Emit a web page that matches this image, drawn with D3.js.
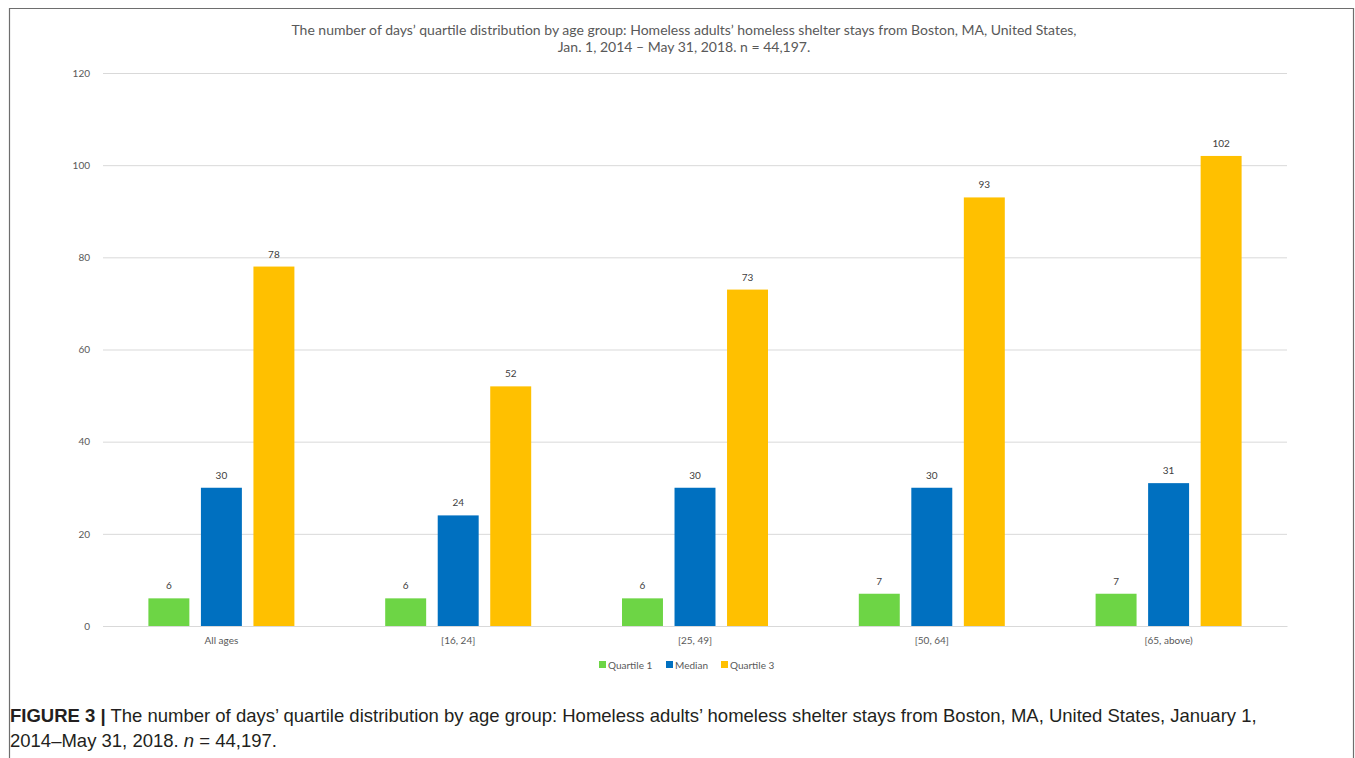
<!DOCTYPE html>
<html>
<head>
<meta charset="utf-8">
<script src="https://cdn.jsdelivr.net/npm/d3@7"></script>
<style>
  html, body { margin: 0; padding: 0; background: #fff; }
  svg { display: block; }
</style>
</head>
<body>
<script>
// Age groups and the three quartile series (days of shelter stay)
const categories = ["All ages", "[16, 24]", "[25, 49]", "[50, 64]", "[65, above)"];
const seriesNames = ["Quartile 1", "Median", "Quartile 3"];
const quartile1 = [6, 6, 6, 7, 7];
const median = [30, 24, 30, 30, 31];
const quartile3 = [78, 52, 73, 93, 102];
const yTicks = [0, 20, 40, 60, 80, 100, 120];
const colors = ["#6dd545", "#0070c0", "#ffc000"];

const titleLines = [
  "The number of days\u2019 quartile distribution by age group: Homeless adults\u2019 homeless shelter stays from Boston, MA, United States,",
  "Jan. 1, 2014 \u2013 May 31, 2018. n = 44,197."
];

const W = 1355, H = 758;
const svg = d3.select("body").append("svg").attr("width", W).attr("height", H);

// outer frame of the chart panel (top, left, right)
svg.append("path")
  .attr("d", `M9.5,${H} L9.5,8.5 L1353.5,8.5 L1353.5,${H}`)
  .attr("fill", "none").attr("stroke", "#6e6e6e").attr("stroke-width", 1.2);

const plot = { left: 103, right: 1287, top: 73, bottom: 626 };

const x = d3.scaleBand().domain(categories).range([plot.left, plot.right]);
const xInner = d3.scaleBand().domain(seriesNames)
  .range([x.bandwidth() / 2 - 73, x.bandwidth() / 2 + 73]).paddingInner(0.22);
const y = d3.scaleLinear().domain([0, 120]).range([plot.bottom, plot.top]);

const chartFont = "Lato, 'Open Sans', sans-serif";

// title
svg.append("g").selectAll("text").data(titleLines).join("text")
  .attr("x", 684).attr("y", (d, i) => 35 + i * 17)
  .attr("text-anchor", "middle")
  .attr("font-family", chartFont).attr("font-size", 14)
  .attr("fill", "#595959")
  .text(d => d);

// gridlines + y axis labels
const yAxis = d3.axisLeft(y).tickValues(yTicks).tickSize(-(plot.right - plot.left)).tickPadding(13);
const gy = svg.append("g").attr("transform", `translate(${plot.left},0)`).call(yAxis);
gy.select(".domain").remove();
gy.selectAll(".tick line").attr("stroke", "#d9d9d9").attr("stroke-width", 1);
gy.selectAll(".tick text")
  .attr("font-family", chartFont).attr("font-size", 10).attr("fill", "#595959");

// x axis labels
const xAxis = d3.axisBottom(x).tickSize(0).tickPadding(11);
const gx = svg.append("g").attr("transform", `translate(0,${plot.bottom})`).call(xAxis);
gx.select(".domain").attr("stroke", "#d9d9d9");
gx.selectAll(".tick text")
  .attr("font-family", chartFont).attr("font-size", 10).attr("fill", "#595959");

// bars
const rows = categories.map((c, i) => ({
  cat: c,
  vals: [quartile1[i], median[i], quartile3[i]]
}));

const groups = svg.append("g").selectAll("g").data(rows).join("g")
  .attr("transform", d => `translate(${x(d.cat)},0)`);

groups.selectAll("rect").data(d => d.vals.map((v, k) => ({ v, s: seriesNames[k], k })))
  .join("rect")
  .attr("x", d => xInner(d.s))
  .attr("width", xInner.bandwidth())
  .attr("y", d => y(d.v))
  .attr("height", d => y(0) - y(d.v))
  .attr("fill", d => colors[d.k]);

groups.selectAll("text.val").data(d => d.vals.map((v, k) => ({ v, s: seriesNames[k], k })))
  .join("text").attr("class", "val")
  .attr("x", d => xInner(d.s) + xInner.bandwidth() / 2)
  .attr("y", d => y(d.v) - 9)
  .attr("text-anchor", "middle")
  .attr("font-family", chartFont).attr("font-size", 10).attr("fill", "#404040")
  .text(d => d.v);

// legend
const legendItems = [
  { name: "Quartile 1", x: 599 },
  { name: "Median", x: 666 },
  { name: "Quartile 3", x: 721 }
];
const lg = svg.append("g").selectAll("g").data(legendItems).join("g")
  .attr("transform", d => `translate(${d.x},665)`);
lg.append("rect").attr("x", 0).attr("y", -4).attr("width", 7).attr("height", 7)
  .attr("fill", (d, i) => colors[i]);
lg.append("text").attr("x", 9).attr("y", 3.5)
  .attr("font-family", chartFont).attr("font-size", 10).attr("fill", "#595959")
  .text(d => d.name);

// figure caption
const cap = svg.append("g").attr("font-family", "'Liberation Sans', Arial, sans-serif")
  .attr("font-size", 18.5).attr("fill", "#231f20");
const l1 = cap.append("text").attr("x", 10).attr("y", 722);
l1.append("tspan").attr("font-weight", "bold").text("FIGURE 3 |");
l1.append("tspan").text(" The number of days\u2019 quartile distribution by age group: Homeless adults\u2019 homeless shelter stays from Boston, MA, United States, January 1,");
const l2 = cap.append("text").attr("x", 10).attr("y", 747);
l2.append("tspan").text("2014\u2013May 31, 2018. ");
l2.append("tspan").attr("font-style", "italic").text("n");
l2.append("tspan").text(" = 44,197.");
</script>
</body>
</html>
